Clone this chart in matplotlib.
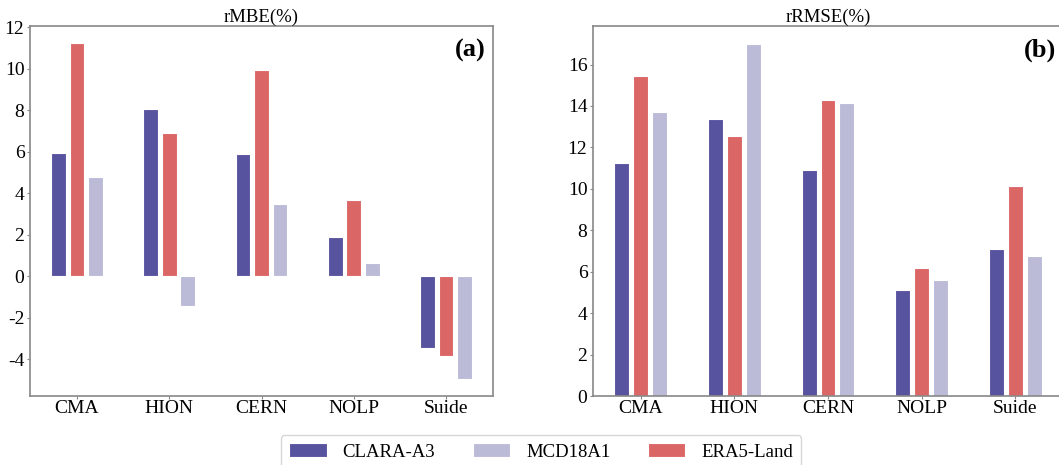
import matplotlib
matplotlib.use("Agg")
import matplotlib.pyplot as plt
import numpy as np

plt.rcParams['font.family'] = ['Liberation Serif', 'DejaVu Serif']
plt.rcParams['axes.unicode_minus'] = False

categories = ["CMA", "HION", "CERN", "NOLP", "Suide"]
series_names = ["CLARA-A3", "ERA5-Land", "MCD18A1"]
colors = ["#58539F", "#DA6766", "#BBBBD8"]

rmbe_clara = [5.93, 8.07, 5.87, 1.90, -3.46]
rmbe_era5 = [11.25, 6.88, 9.94, 3.65, -3.84]
rmbe_mcd = [4.77, -1.45, 3.49, 0.61, -4.97]

rrmse_clara = [11.24, 13.35, 10.89, 5.10, 7.12]
rrmse_era5 = [15.47, 12.54, 14.31, 6.19, 10.13]
rrmse_mcd = [13.72, 17.01, 14.12, 5.58, 6.75]

fig = plt.figure(figsize=(10.59, 4.65), dpi=100)
W, H = 1059, 465
ax1 = fig.add_axes([30 / W, (H - 396) / H, 463 / W, 370 / H])
ax2 = fig.add_axes([593 / W, (H - 396) / H, 470 / W, 370 / H])

x = np.arange(len(categories))
width = 0.16
offsets = [-0.2, 0.0, 0.2]

def draw(ax, data, title, label):
    bars = []
    for off, vals, col, name in zip(offsets, data, colors, series_names):
        b = ax.bar(x + off, vals, width, color=col, edgecolor="white", linewidth=0.8, label=name)
        bars.append(b)
    ax.set_xticks(x)
    ax.set_xticklabels(categories, fontsize=14)
    ax.tick_params(axis='y', labelsize=14, length=2, color="#888888", pad=2)
    ax.tick_params(axis='x', length=2, color="#888888", pad=1)
    for s in ax.spines.values():
        s.set_color("#888888")
        s.set_linewidth(1.2)
    ax.set_title(title, fontsize=13.5, pad=2)
    ax.text(0.985, 0.965, label, transform=ax.transAxes, ha='right', va='top',
            fontsize=19, fontweight='bold')
    return bars

bars = draw(ax1, [rmbe_clara, rmbe_era5, rmbe_mcd], "rMBE(%)", "(a)")
draw(ax2, [rrmse_clara, rrmse_era5, rrmse_mcd], "rRMSE(%)", "(b)")
ax1.set_yticks(np.arange(-4, 13, 2))
ax2.set_yticks(np.arange(0, 17, 2))

handles = [bars[0], bars[2], bars[1]]
labels = ["CLARA-A3", "MCD18A1", "ERA5-Land"]
leg = fig.legend(handles, labels, loc='upper center', bbox_to_anchor=(541 / W, 1 - 435 / H),
                 ncol=3, fontsize=13.5, frameon=True, handlelength=2.0, handleheight=0.7,
                 columnspacing=2.0, handletextpad=0.85, borderpad=0.45, fancybox=True,
                 borderaxespad=0)
leg.get_frame().set_edgecolor("#cccccc")

fig.savefig("out.png", dpi=100)
